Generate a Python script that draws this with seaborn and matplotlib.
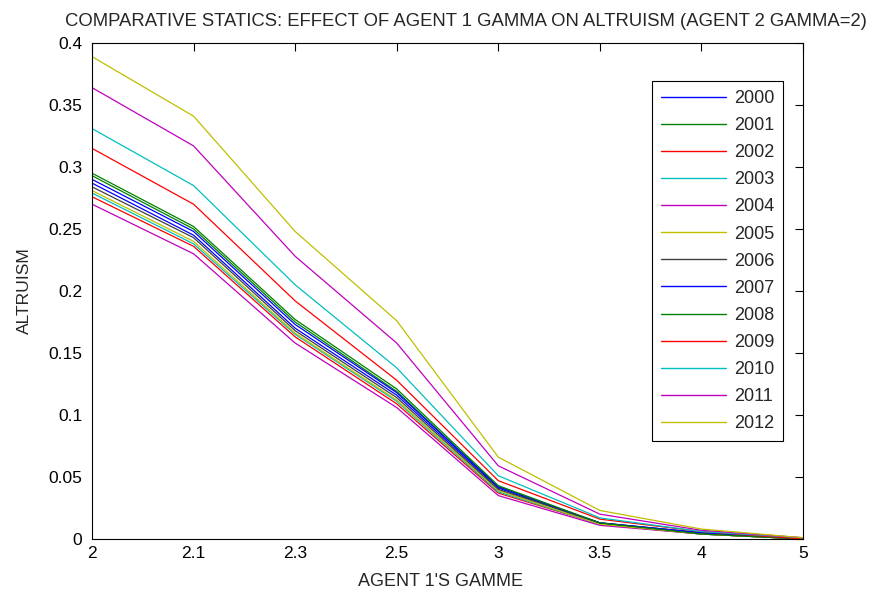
import pandas as pd
import seaborn as sns
import matplotlib.pyplot as plt
import numpy as np

# x categories (agent 1 gamma), drawn at equal spacing like the original
gamma_labels = ['2', '2.1', '2.3', '2.5', '3', '3.5', '4', '5']
years = ['2000', '2001', '2002', '2003', '2004', '2005', '2006',
         '2007', '2008', '2009', '2010', '2011', '2012']

alt_2000 = [0.287, 0.245, 0.170, 0.116, 0.041, 0.013, 0.005, 0.000]
alt_2001 = [0.293, 0.250, 0.175, 0.119, 0.042, 0.012, 0.004, 0.000]
alt_2002 = [0.276, 0.236, 0.163, 0.109, 0.037, 0.012, 0.004, 0.000]
alt_2003 = [0.279, 0.238, 0.165, 0.111, 0.038, 0.012, 0.004, 0.000]
alt_2004 = [0.270, 0.230, 0.158, 0.106, 0.035, 0.011, 0.004, 0.000]
alt_2005 = [0.281, 0.240, 0.166, 0.112, 0.039, 0.012, 0.004, 0.000]
alt_2006 = [0.284, 0.243, 0.168, 0.114, 0.040, 0.013, 0.005, 0.000]
alt_2007 = [0.290, 0.248, 0.173, 0.118, 0.042, 0.013, 0.005, 0.000]
alt_2008 = [0.295, 0.252, 0.177, 0.121, 0.043, 0.013, 0.004, 0.000]
alt_2009 = [0.315, 0.270, 0.192, 0.128, 0.047, 0.016, 0.006, 0.000]
alt_2010 = [0.331, 0.285, 0.205, 0.138, 0.051, 0.017, 0.006, 0.001]
alt_2011 = [0.364, 0.317, 0.228, 0.158, 0.059, 0.020, 0.007, 0.001]
alt_2012 = [0.389, 0.341, 0.248, 0.176, 0.066, 0.023, 0.008, 0.001]

series = [alt_2000, alt_2001, alt_2002, alt_2003, alt_2004, alt_2005, alt_2006,
          alt_2007, alt_2008, alt_2009, alt_2010, alt_2011, alt_2012]

# old matlab colour order, cycling
matlab_cols = ['#0000ff', '#008000', '#ff0000', '#00bfbf', '#bf00bf', '#bfbf00', '#404040']
palette = [matlab_cols[i % 7] for i in range(len(years))]

rows = []
for yr, vals in zip(years, series):
    for i, v in enumerate(vals):
        rows.append({'pos': i, 'altruism': v, 'year': yr})
df = pd.DataFrame(rows)

sns.set_style('white')
plt.rcParams['font.family'] = ['Liberation Sans', 'DejaVu Sans']

fig = plt.figure(figsize=(8.72, 5.93), dpi=100)
ax = fig.add_axes([0.1055, 0.0911, 0.8154, 0.8364])

sns.lineplot(data=df, x='pos', y='altruism', hue='year', palette=palette,
             linewidth=0.9, ax=ax)

ax.set_xlim(0, len(gamma_labels) - 1)
ax.set_ylim(0, 0.4)
ax.set_xticks(range(len(gamma_labels)))
ax.set_xticklabels(gamma_labels)
yt = np.arange(0, 0.401, 0.05)
ax.set_yticks(yt)
ax.set_yticklabels(['0', '0.05', '0.1', '0.15', '0.2', '0.25', '0.3', '0.35', '0.4'])
ax.tick_params(direction='in', length=6, width=0.8, top=True, right=True,
               labelsize=12.5, colors='black')
ax.tick_params(axis='y', pad=7)
ax.tick_params(axis='x', pad=5)
for s in ax.spines.values():
    s.set_color('black')
    s.set_linewidth(0.8)

ax.set_title('COMPARATIVE STATICS: EFFECT OF AGENT 1 GAMMA ON ALTRUISM (AGENT 2 GAMMA=2)',
             fontsize=13.3, pad=12, x=0.526)
ax.set_xlabel("AGENT 1'S GAMME", fontsize=13, labelpad=9, x=0.49)
ax.set_ylabel('ALTRUISM', fontsize=12.6, labelpad=12)

leg = ax.legend(loc='upper right', bbox_to_anchor=(0.972, 0.9234), fontsize=13,
                frameon=True, fancybox=False, edgecolor='black', framealpha=1,
                handlelength=3.6, handletextpad=0.4, labelspacing=0.56,
                borderpad=0.5, borderaxespad=0)
leg.get_frame().set_linewidth(0.8)
for line in leg.get_lines():
    line.set_linewidth(1.0)

fig.savefig('out.png', dpi=100)
